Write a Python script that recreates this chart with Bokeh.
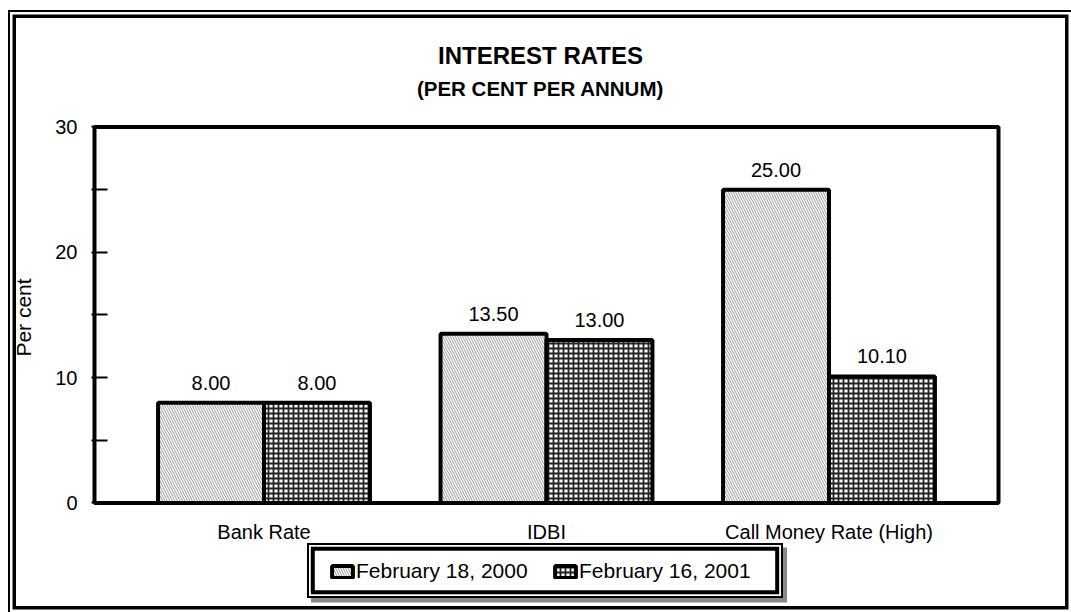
from bokeh.plotting import figure
from bokeh.models import (ColumnDataSource, FactorRange, Range1d, Legend, LegendItem,
                          LabelSet, Label, BoxAnnotation, FixedTicker, InlineStyleSheet)
from bokeh.core.properties import value
from bokeh.transform import dodge
from bokeh.embed import file_html
from bokeh.resources import INLINE

# ---- data -------------------------------------------------------------
categories = ["Bank Rate", "IDBI", "Call Money Rate (High)"]
feb_2000 = [8.00, 13.50, 25.00]
feb_2001 = [8.00, 13.00, 10.10]
series_names = ["February 18, 2000", "February 16, 2001"]
y_ticks = [0, 5, 10, 15, 20, 25, 30]
y_tick_labels = ["0", "", "10", "", "20", "", "30"]
y_max = 30

FONT = "Liberation Sans"

source = ColumnDataSource(dict(
    cat=categories,
    v2000=feb_2000,
    v2001=feb_2001,
    t2000=[f"{v:.2f}" for v in feb_2000],
    t2001=[f"{v:.2f}" for v in feb_2001],
))

# The frame spans the titles, chart box and legend; the chart box itself
# covers 0..y_max and the category band -0.1..3.1.
BOX_PAD = 0.1
x_range = FactorRange(factors=categories, range_padding=0.1106,
                      range_padding_units="absolute")
y_range = Range1d(-8.738, 38.338)

p = figure(frame_width=910, frame_height=590, x_range=x_range, y_range=y_range,
           output_backend="svg", toolbar_location=None, title_location=None,
           min_border_left=91, min_border_right=70,
           min_border_top=22, min_border_bottom=0)

p.background_fill_color = "white"
p.border_fill_color = "white"
p.outline_line_color = None
p.xgrid.visible = False
p.ygrid.visible = False

# chart box
p.add_layout(BoxAnnotation(left=-BOX_PAD, right=len(categories) + BOX_PAD,
                           bottom=0, top=y_max, fill_alpha=0,
                           line_color="black", line_alpha=1, line_width=4,
                           level="underlay"))

bar_w = 0.375
half = bar_w / 2

r1 = p.vbar(x=dodge("cat", -half, range=p.x_range), top="v2000", width=bar_w,
            source=source, fill_color="white", line_color="black", line_width=4,
            hatch_pattern="\\", hatch_color="#8c8c8c", hatch_scale=5,
            hatch_weight=0.9)
r2 = p.vbar(x=dodge("cat", half, range=p.x_range), top="v2001", width=bar_w,
            source=source, fill_color="white", line_color="black", line_width=4,
            hatch_pattern="+", hatch_color="#222222", hatch_scale=5,
            hatch_weight=1.8)

for col, txt, off in (("v2000", "t2000", -half), ("v2001", "t2001", half)):
    p.add_layout(LabelSet(x=dodge("cat", off, range=p.x_range), y=col, text=txt,
                          source=source, y_offset=13, text_align="center",
                          text_baseline="alphabetic", text_font=value(FONT),
                          text_font_size="20px", text_color="black"))

# ---- axes -------------------------------------------------------------
ya = p.yaxis[0]
ya.ticker = FixedTicker(ticks=y_ticks)
ya.major_label_overrides = {t: s for t, s in zip(y_ticks, y_tick_labels)}
ya.axis_line_color = None
ya.major_tick_in = 16
ya.major_tick_out = 0
ya.major_tick_line_width = 2
ya.minor_tick_line_color = None
ya.major_label_standoff = 14
ya.major_label_text_font = FONT
ya.major_label_text_font_size = "20px"
ya.major_label_text_color = "black"
ya.axis_label = "Per cent"
ya.axis_label_text_font = FONT
ya.axis_label_text_font_size = "21px"
ya.axis_label_text_font_style = "normal"
ya.axis_label_text_color = "black"
ya.axis_label_standoff = 17

xa = p.xaxis[0]
xa.fixed_location = 0
xa.axis_line_color = None
xa.major_tick_line_color = None
xa.minor_tick_line_color = None
xa.major_label_standoff = 12
xa.major_label_text_font = FONT
xa.major_label_text_font_size = "20px"
xa.major_label_text_color = "black"

# ---- titles -----------------------------------------------------------
mid_x = (len(categories) - 1) / 2 + 0.5
p.add_layout(Label(x=mid_x, y=35.68, x_offset=-6,
                   text="INTEREST RATES", text_align="center",
                   text_baseline="alphabetic", text_font=FONT,
                   text_font_size="24px", text_font_style="bold",
                   text_color="black"))
p.add_layout(Label(x=mid_x, y=33.07, x_offset=-6,
                   text="(PER CENT PER ANNUM)", text_align="center",
                   text_baseline="alphabetic", text_font=FONT,
                   text_font_size="20.5px", text_font_style="bold",
                   text_color="black"))

# ---- legend -----------------------------------------------------------
legend = Legend(items=[LegendItem(label=series_names[0], renderers=[r1]),
                       LegendItem(label=series_names[1], renderers=[r2])],
                orientation="horizontal", location=(238, 29),
                padding=0, margin=0, spacing=20,
                glyph_width=26, glyph_height=15, label_standoff=1,
                label_width=176, label_height=24,
                border_line_color=None, background_fill_alpha=0,
                label_text_font=FONT, label_text_font_size="21px",
                label_text_color="black")
p.add_layout(legend)

# ---- page rules and the legend's framed box ----------------------------
frame_css = """
:host::before {
  content: ""; position: absolute; z-index: 5; pointer-events: none;
  box-sizing: border-box;
  left: 7.5px; top: 10px; width: 1063.5px; height: 602px;
  border-left: 2.5px solid #000; border-top: 2px solid #000;
  box-shadow: inset 0 0 0 2.5px #fff, inset 0 0 0 6px #000;
}
:host::after {
  content: ""; position: absolute; z-index: 5; pointer-events: none;
  box-sizing: border-box;
  left: 307.3px; top: 543.3px; width: 476px; height: 54.7px;
  border: 2.5px solid #000;
  box-shadow: 4px 4.5px 0 0 #888, inset 0 0 0 1.8px #fff, inset 0 0 0 5.8px #000;
}
"""
p.stylesheets = [InlineStyleSheet(css=frame_css)]

open("out.html", "w").write(file_html(p, INLINE))
